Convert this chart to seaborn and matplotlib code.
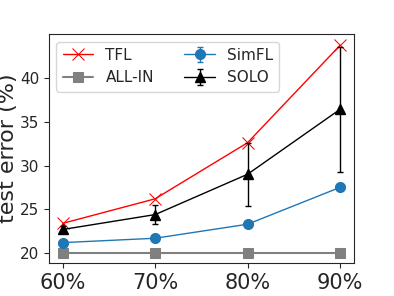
import matplotlib
matplotlib.use("Agg")
import matplotlib.pyplot as plt
import seaborn as sns
import pandas as pd

ratios = [60, 70, 80, 90]
tick_labels = ["60%", "70%", "80%", "90%"]
tfl = [23.4, 26.2, 32.6, 43.7]
all_in = [20.0, 20.0, 20.0, 20.0]
simfl = [21.2, 21.7, 23.3, 27.5]
simfl_err = [0.2, 0.2, 0.2, 0.35]
solo = [22.7, 24.4, 29.0, 36.4]
solo_err = [0.4, 1.1, 3.6, 7.1]

sns.set_style("ticks")
fig = plt.figure(figsize=(3.94, 2.96), dpi=100)
ax = fig.add_axes([0.124, 0.111, 0.774, 0.774])

df = pd.DataFrame({"ratio": ratios, "TFL": tfl, "ALL-IN": all_in})
sns.lineplot(data=df, x="ratio", y="TFL", ax=ax, color="red", marker="x",
             markersize=8, markeredgecolor="red", linewidth=1.0, label="TFL")
sns.lineplot(data=df, x="ratio", y="ALL-IN", ax=ax, color="gray", marker="s",
             markersize=7, markeredgecolor="gray", linewidth=1.5, label="ALL-IN")
ax.errorbar(ratios, simfl, yerr=simfl_err, color="#1f77b4", marker="o",
            markersize=7, linewidth=1.0, capsize=2, label="SimFL")
ax.errorbar(ratios, solo, yerr=solo_err, color="black", marker="^",
            markersize=7, linewidth=1.0, capsize=2, label="SOLO")

ax.set_xticks(ratios)
ax.set_xticklabels(tick_labels, fontsize=15)
ax.set_yticks([20, 25, 30, 35, 40])
ax.tick_params(axis="y", labelsize=11)
ax.set_ylim(18.86, 45.0)
ax.set_xlabel("")
ax.set_ylabel("test error (%)", fontsize=16, labelpad=1)
ax.legend(ncol=2, loc="upper left", fontsize=11)

fig.savefig("out.png", dpi=100)
